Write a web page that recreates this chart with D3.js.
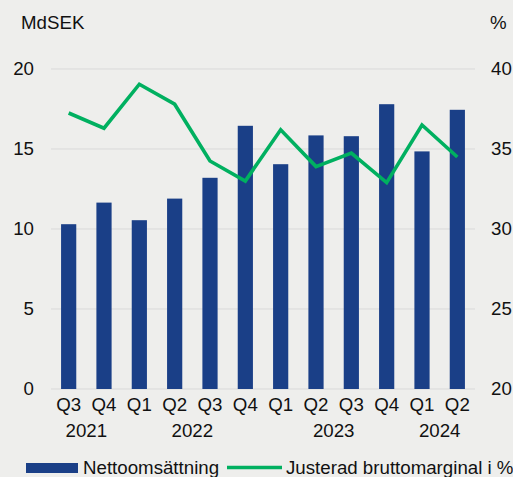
<!DOCTYPE html>
<html>
<head>
<meta charset="utf-8">
<script src="https://cdn.jsdelivr.net/npm/d3@7/dist/d3.min.js"></script>
<style>
  html, body { margin: 0; padding: 0; background: #eeeeec; }
  svg { display: block; }
  text { font-family: "Liberation Sans", Arial, sans-serif; fill: #111; }
</style>
</head>
<body>
<div id="chart"></div>
<script>
const quarters = ["Q3","Q4","Q1","Q2","Q3","Q4","Q1","Q2","Q3","Q4","Q1","Q2"];
const years = [
  {label: "2021", from: 0, to: 1},
  {label: "2022", from: 3, to: 4},
  {label: "2023", from: 7, to: 8},
  {label: "2024", from: 10, to: 11}
];
const nettoomsattning = [10.3, 11.65, 10.55, 11.9, 13.2, 16.45, 14.05, 15.85, 15.8, 17.8, 14.85, 17.45];
const bruttomarginal = [37.25, 36.3, 39.05, 37.8, 34.25, 33.0, 36.2, 33.9, 34.75, 32.9, 36.5, 34.5];
const leftTicks = [0, 5, 10, 15, 20];
const rightTicks = [20, 25, 30, 35, 40];
const seriesNames = ["Nettoomsättning", "Justerad bruttomarginal i %"];

const W = 513, H = 477;
const mLeft = 51, mRight = 475, mTop = 69, mBottom = 389;
const barColor = "#1a3f87", lineColor = "#00b060", gridColor = "#d9d9d9";
const FS = 18.7;
const FF = "Liberation Sans, Arial, sans-serif";

const svg = d3.select("#chart").append("svg").attr("width", W).attr("height", H);
svg.append("rect").attr("width", W).attr("height", H).attr("fill", "#eeeeec");

const idx = d3.range(quarters.length);
const x = d3.scaleBand().domain(idx).range([mLeft, mRight]);
const yL = d3.scaleLinear().domain([0, 20]).range([mBottom, mTop]);
const yR = d3.scaleLinear().domain([20, 40]).range([mBottom, mTop]);
const cx = i => x(i) + x.bandwidth() / 2;
const bw = x.step() * 0.43;

// gridlines
svg.append("g").selectAll("line").data(leftTicks).join("line")
  .attr("x1", mLeft).attr("x2", mRight)
  .attr("y1", d => yL(d)).attr("y2", d => yL(d))
  .attr("stroke", gridColor).attr("stroke-width", 1);

// bars
svg.append("g").selectAll("rect").data(nettoomsattning).join("rect")
  .attr("x", (d, i) => cx(i) - bw / 2)
  .attr("width", bw)
  .attr("y", d => yL(d))
  .attr("height", d => yL(0) - yL(d))
  .attr("fill", barColor);

// line
const line = d3.line().x((d, i) => cx(i)).y(d => yR(d));
svg.append("path").datum(bruttomarginal)
  .attr("d", line).attr("fill", "none")
  .attr("stroke", lineColor).attr("stroke-width", 3.6)
  .attr("stroke-linejoin", "miter");

// left axis
const axL = svg.append("g").attr("transform", `translate(${mLeft},0)`)
  .call(d3.axisLeft(yL).tickValues(leftTicks).tickSize(0).tickPadding(17));
axL.select(".domain").remove();
axL.selectAll("text").attr("font-size", FS).attr("font-family", FF).attr("fill", "#111");

// right axis
const axR = svg.append("g").attr("transform", `translate(${mRight},0)`)
  .call(d3.axisRight(yR).tickValues(rightTicks).tickSize(0).tickPadding(16));
axR.select(".domain").remove();
axR.selectAll("text").attr("font-size", FS).attr("font-family", FF).attr("fill", "#111");

// x axis quarters
const axX = svg.append("g").attr("transform", `translate(0,${mBottom})`)
  .call(d3.axisBottom(x).tickFormat(i => quarters[i]).tickSize(0).tickPadding(9));
axX.select(".domain").remove();
axX.selectAll("text").attr("font-size", FS).attr("font-family", FF).attr("fill", "#111");

// years
svg.append("g").selectAll("text").data(years).join("text")
  .attr("x", d => (cx(d.from) + cx(d.to)) / 2)
  .attr("y", 437)
  .attr("text-anchor", "middle")
  .attr("font-size", FS)
  .text(d => d.label);

// unit labels
svg.append("text").attr("x", 21).attr("y", 29).attr("font-size", FS).text("MdSEK");
svg.append("text").attr("x", 490).attr("y", 29).attr("font-size", FS).text("%");

// legend
const lg = svg.append("g");
lg.append("rect").attr("x", 26).attr("y", 463).attr("width", 52).attr("height", 10).attr("fill", barColor);
lg.append("text").attr("x", 83).attr("y", 474).attr("font-size", FS).text(seriesNames[0]);
lg.append("line").attr("x1", 227).attr("x2", 282).attr("y1", 467.5).attr("y2", 467.5)
  .attr("stroke", lineColor).attr("stroke-width", 3.6);
lg.append("text").attr("x", 286).attr("y", 474).attr("font-size", FS).text(seriesNames[1]);
</script>
</body>
</html>
